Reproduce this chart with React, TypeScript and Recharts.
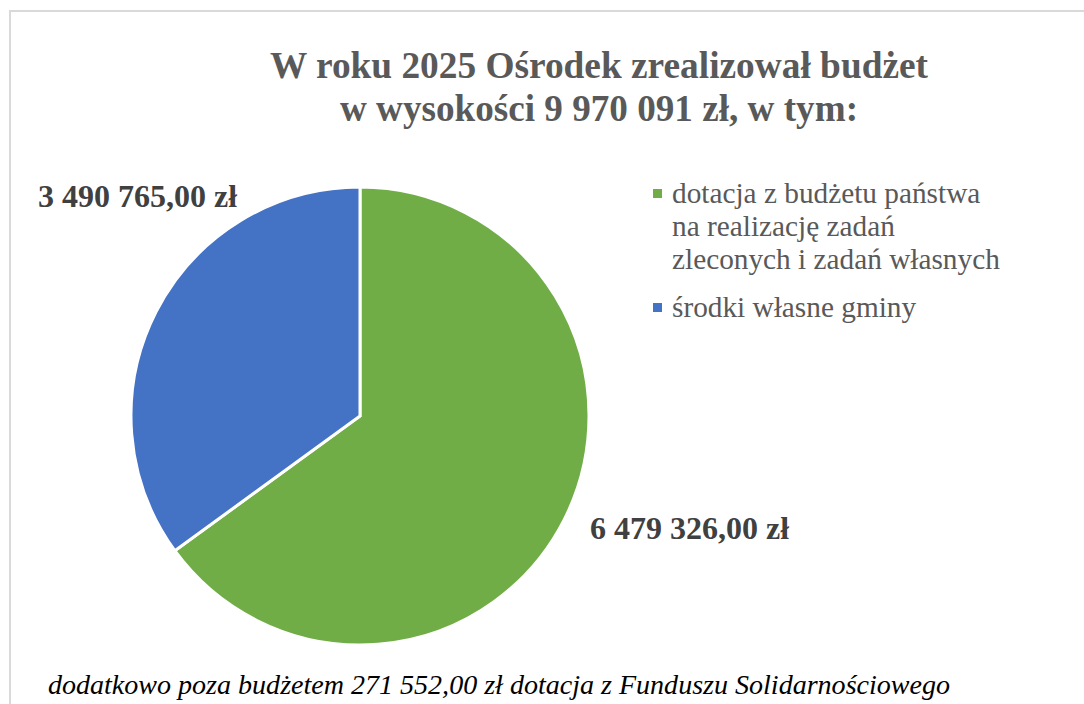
import React from "react";
import { PieChart, Pie, Cell, Legend } from "recharts";

const categories = [
  "dotacja z budżetu państwa na realizację zadań zleconych i zadań własnych",
  "środki własne gminy",
];
const legendLines = [
  ["dotacja z budżetu państwa", "na realizację zadań", "zleconych i zadań własnych"],
  ["środki własne gminy"],
];
const values = [6479326.0, 3490765.0];
const valueLabels = ["6 479 326,00 zł", "3 490 765,00 zł"];
const colors = ["#70AD47", "#4472C4"];
const titleLines = ["W roku 2025 Ośrodek zrealizował budżet", "w wysokości 9 970 091 zł, w tym:"];
const footnote = "dodatkowo poza budżetem 271 552,00 zł dotacja z Funduszu Solidarnościowego";

const data = categories.map((name, i) => ({ name, value: values[i], label: valueLabels[i] }));

const SERIF = "'Liberation Serif', 'Times New Roman', serif";

// label offsets relative to pie centre (style only)
const labelOffsets = [
  { dx: 230, dy: 123 },
  { dx: -322, dy: -209 },
];

const renderLabel = (props: any) => {
  const { cx, cy, index } = props;
  const o = labelOffsets[index];
  return (
    <text
      x={cx + o.dx}
      y={cy + o.dy}
      fill="#404040"
      fontFamily={SERIF}
      fontWeight="bold"
      fontSize={32}
      textAnchor="start"
    >
      {data[index].label}
    </text>
  );
};

const LegendContent = () => (
  <div style={{ fontFamily: SERIF, fontSize: 29.3, color: "#595959", lineHeight: "33px", textAlign: "left" }}>
    {legendLines.map((lines, i) => (
      <div key={i} style={{ position: "relative", paddingLeft: 20, marginBottom: i === 0 ? 15 : 0 }}>
        <span
          style={{
            position: "absolute",
            left: 1,
            top: 12,
            width: 9,
            height: 9,
            background: colors[i],
          }}
        />
        {lines.map((l, j) => (
          <div key={j} style={{ whiteSpace: "nowrap" }}>{l}</div>
        ))}
      </div>
    ))}
  </div>
);

export default function App() {
  return (
    <div style={{ position: "absolute", left: 0, top: 0, width: 1084, height: 704, background: "#fff", overflow: "hidden" }}>
      <div
        style={{
          position: "absolute",
          left: 9,
          top: 10,
          right: -10,
          bottom: -10,
          borderLeft: "2px solid #d9d9d9",
          borderTop: "2px solid #d9d9d9",
        }}
      />
      <PieChart
        width={1084}
        height={704}
        margin={{ top: 0, right: 0, bottom: 0, left: 0 }}
        style={{ position: "absolute", left: 0, top: 0 }}
      >
        <Pie
          data={data}
          dataKey="value"
          nameKey="name"
          cx={360}
          cy={416}
          outerRadius={229}
          startAngle={90}
          endAngle={-270}
          stroke="#ffffff"
          strokeWidth={3}
          label={renderLabel}
          labelLine={false}
          isAnimationActive={false}
        >
          {data.map((d, i) => (
            <Cell key={i} fill={colors[i]} />
          ))}
        </Pie>
        <Legend
          content={<LegendContent />}
          layout="vertical"
          verticalAlign="middle"
          align="center"
          wrapperStyle={{ left: 652, top: 177, width: 430 }}
        />
      </PieChart>
      <svg width={1084} height={704} style={{ position: "absolute", left: 0, top: 0, pointerEvents: "none" }}>
        <text
          x={599}
          y={78}
          textAnchor="middle"
          fontFamily={SERIF}
          fontWeight="bold"
          fontSize={37.3}
          fill="#595959"
          textLength={658}
          lengthAdjust="spacingAndGlyphs"
        >
          {titleLines[0]}
        </text>
        <text
          x={599}
          y={121}
          textAnchor="middle"
          fontFamily={SERIF}
          fontWeight="bold"
          fontSize={37.3}
          fill="#595959"
          textLength={518}
          lengthAdjust="spacingAndGlyphs"
        >
          {titleLines[1]}
        </text>
        <text
          x={48}
          y={694}
          fontFamily={SERIF}
          fontStyle="italic"
          fontSize={28}
          fill="#000"
          textLength={902}
          lengthAdjust="spacingAndGlyphs"
        >
          {footnote}
        </text>
      </svg>
    </div>
  );
}
